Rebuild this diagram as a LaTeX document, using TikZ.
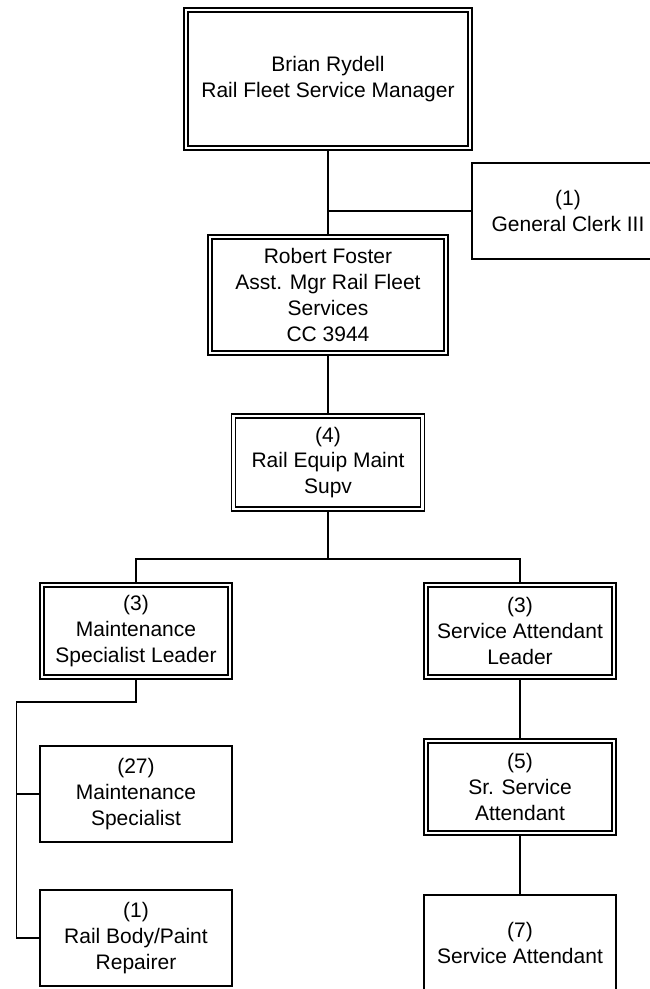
\documentclass[tikz,border=0pt]{standalone}
\usepackage{fontspec}
\setmainfont{Liberation Sans}
\usetikzlibrary{positioning,backgrounds}

\begin{document}
\begin{tikzpicture}[
      x=1pt,y=1pt,
      every node/.style={align=center,outer sep=0pt,font=\fontsize{21}{25.7}\selectfont},
      box/.style={draw,fill=white,line width=1.5pt,minimum width=192pt,minimum height=96pt},
      dblbox/.style={box,double,double distance=2.5pt,minimum width=188pt,minimum height=92pt},
      link/.style={line width=1.5pt}
    ]
      \useasboundingbox (0,0) rectangle (649,-989);
      \node[dblbox,minimum width=284pt,minimum height=138pt] (brian) at (328,-79) {Brian Rydell\\Rail Fleet Service Manager};
      \node[box] (clerk) at (568,-211) {(1)\\General Clerk III};
      \node[dblbox,minimum width=236pt,minimum height=116pt] (robert) [below=89pt of brian] {Robert Foster\\Asst. Mgr Rail Fleet\\Services\\CC 3944};
      \node[dblbox,minimum width=189pt,minimum height=93pt] (supv) [below=63pt of robert] {(4)\\Rail Equip Maint\\Supv};
      \node[dblbox] (msl) at (136,-631) {(3)\\Maintenance\\Specialist Leader};
      \node[dblbox] (sal) at (520,-631) {(3)\\Service Attendant\\Leader};
      \node[box] (ms) at (136,-794) {(27)\\Maintenance\\Specialist};
      \node[box] (rbp) [below=48pt of ms] {(1)\\Rail Body/Paint\\Repairer};
      \node[dblbox] (ssa) [below=64pt of sal] {(5)\\Sr. Service\\Attendant};
      \node[box] (sa) [below=62pt of ssa] {(7)\\Service Attendant};
      \begin{scope}[on background layer]
        \draw[link] (brian) -- (robert);
        \draw[link] (clerk.west) -- (clerk.west -| brian.south);
        \draw[link] (robert) -- (supv);
        \draw[link] (supv.south) -- ++(0,-50) coordinate (fork);
        \draw[link] (msl.north) |- (fork) -| (sal.north);
        \draw[link] (msl.south) -- ++(0,-25) -| ([xshift=-23.5pt]rbp.west) -- (rbp.west);
        \draw[link] (ms.west) -- ++(-23.5,0);
        \draw[link] (sal) -- (ssa);
        \draw[link] (ssa) -- (sa);
      \end{scope}
\end{tikzpicture}
\end{document}
